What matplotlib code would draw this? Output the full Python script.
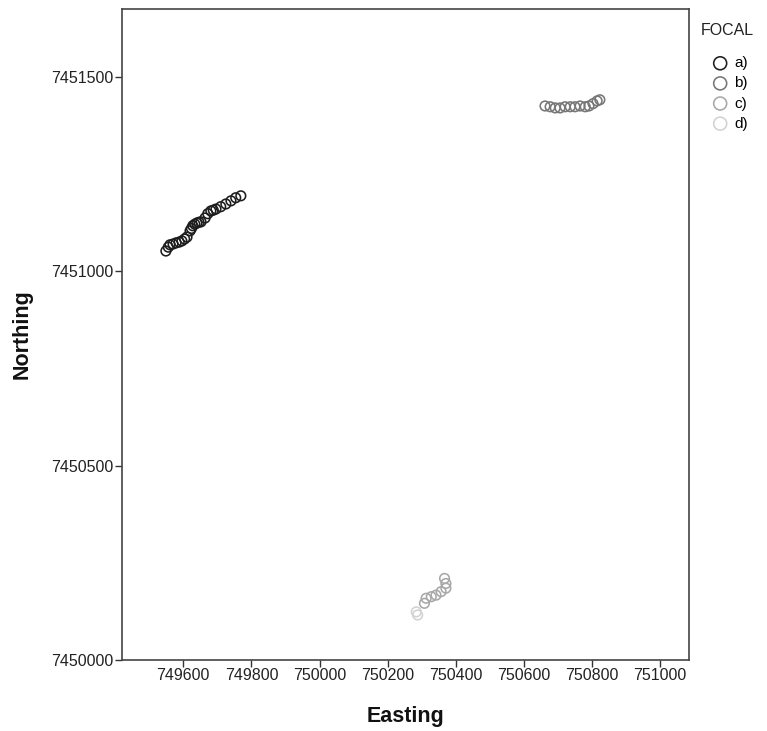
import matplotlib
matplotlib.use("Agg")
import matplotlib.pyplot as plt
from matplotlib.ticker import FixedLocator

plt.rcParams['font.family'] = ['Liberation Sans', 'DejaVu Sans']

# GPS fixes per focal animal (UTM easting / northing)
focal_labels = ["a)", "b)", "c)", "d)"]
focal_colors = ["#1e1e1e", "#777777", "#a8a8a8", "#d2d2d2"]

east_a = [749549, 749556, 749561, 749570, 749579, 749588, 749596, 749604, 749611, 749620,
          749624, 749628, 749634, 749640, 749646, 749652, 749664, 749672, 749681, 749688,
          749696, 749710, 749725, 749740, 749754, 749769]
north_a = [7451052, 7451062, 7451068, 7451070, 7451073, 7451075, 7451078, 7451083, 7451088, 7451104,
           7451110, 7451117, 7451121, 7451124, 7451126, 7451127, 7451137, 7451148, 7451155, 7451157,
           7451160, 7451166, 7451173, 7451181, 7451189, 7451194]

east_b = [750662, 750677, 750692, 750706, 750721, 750736, 750750, 750765, 750780, 750791,
          750803, 750815, 750823]
north_b = [7451425, 7451423, 7451420, 7451420, 7451423, 7451423, 7451423, 7451425, 7451423, 7451425,
           7451431, 7451438, 7451441]

east_c = [750367, 750371, 750371, 750357, 750342, 750328, 750313, 750308]
north_c = [7450210, 7450197, 7450185, 7450176, 7450167, 7450163, 7450159, 7450146]

east_d = [750284, 750288]
north_d = [7450124, 7450116]

x_ticks = [749600, 749800, 750000, 750200, 750400, 750600, 750800, 751000]
y_ticks = [7450000, 7450500, 7451000, 7451500]

fig = plt.figure(figsize=(7.67, 7.31), dpi=100)
ax = fig.add_axes([0.159, 0.097, 0.739, 0.891])

series = [(east_a, north_a), (east_b, north_b), (east_c, north_c), (east_d, north_d)]
for (xs, ys), lab, col in zip(series, focal_labels, focal_colors):
    ax.scatter(xs, ys, s=48, facecolors='none', edgecolors=col, linewidths=1.15, label=lab)

ax.set_xlim(749420, 751084)
ax.set_ylim(7450000, 7451675)
ax.xaxis.set_major_locator(FixedLocator(x_ticks))
ax.yaxis.set_major_locator(FixedLocator(y_ticks))
ax.set_xticklabels([str(v) for v in x_ticks])
ax.set_yticklabels([str(v) for v in y_ticks])
ax.tick_params(axis='both', direction='out', length=5, width=1, color='#333333',
               labelsize=11.5, labelcolor='#222222', pad=1)

for sp in ax.spines.values():
    sp.set_color('#444444')
    sp.set_linewidth(1.2)

ax.set_xlabel("Easting", fontsize=15.5, fontweight='bold', color='#111111')
ax.set_ylabel("Northing", fontsize=15.5, fontweight='bold', color='#111111')
ax.xaxis.set_label_coords(0.5, -0.071)
ax.yaxis.set_label_coords(-0.157, 0.5)

# legend title drawn separately so the gap to the entries can be set
fig.text(0.914, 0.958, "FOCAL", fontsize=11.5, color='#222222', ha='left', va='center')
ax.legend(loc='upper left', bbox_to_anchor=(0.927, 0.923), bbox_transform=fig.transFigure,
          frameon=False, fontsize=11, markerscale=1.35, handletextpad=0.3,
          labelspacing=0.4, handlelength=1.2, borderpad=0.0, borderaxespad=0.0)

fig.savefig("out.png", dpi=100)
